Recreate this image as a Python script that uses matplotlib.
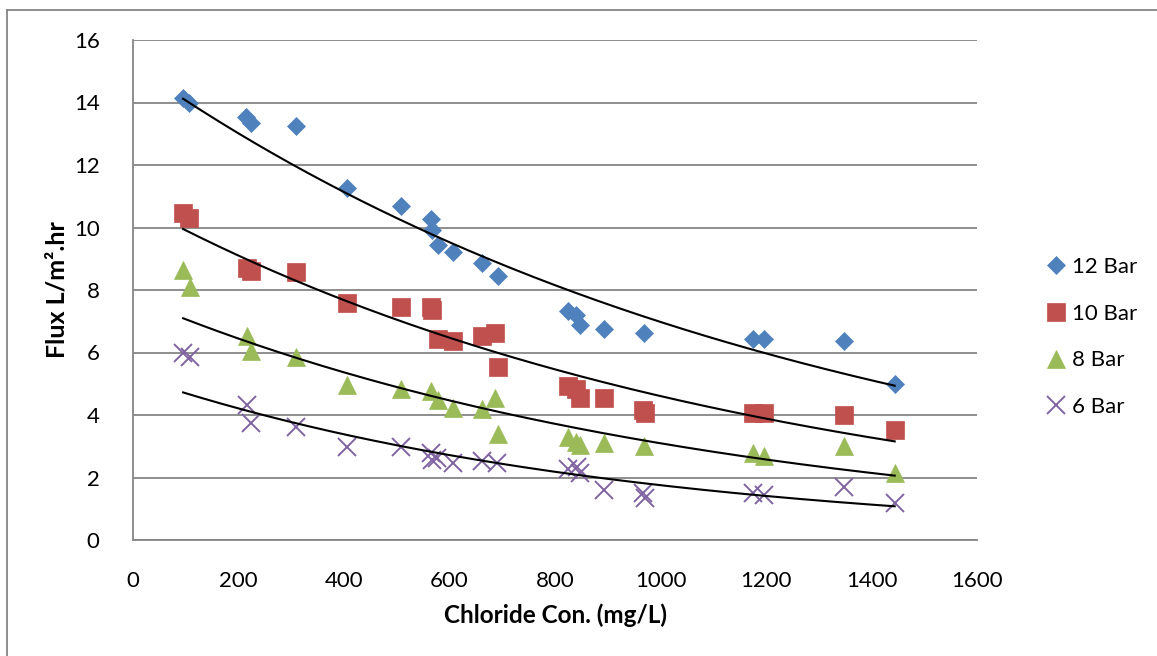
import numpy as np
import matplotlib
matplotlib.use("Agg")
import matplotlib.pyplot as plt
from matplotlib.lines import Line2D

# ---- data ----
x12 = [95, 106, 214, 224, 309, 406, 508, 565, 567, 579, 607, 662, 691, 824, 839, 848, 892, 968, 1176, 1197, 1347, 1444]
y12 = [14.14, 13.98, 13.54, 13.34, 13.25, 11.26, 10.69, 10.27, 9.92, 9.44, 9.22, 8.86, 8.45, 7.33, 7.2, 6.87, 6.75, 6.62, 6.43, 6.43, 6.37, 5.0]

x10 = [95, 106, 216, 224, 309, 406, 508, 565, 567, 579, 607, 662, 687, 691, 824, 839, 848, 892, 966, 970, 1176, 1197, 1347, 1444]
y10 = [10.46, 10.3, 8.7, 8.6, 8.58, 7.58, 7.46, 7.45, 7.36, 6.43, 6.37, 6.53, 6.62, 5.54, 4.93, 4.83, 4.54, 4.54, 4.15, 4.08, 4.06, 4.06, 4.0, 3.52]

x8 = [95, 108, 216, 223, 309, 406, 508, 565, 579, 607, 662, 687, 691, 824, 839, 848, 892, 968, 1176, 1197, 1347, 1444]
y8 = [8.64, 8.1, 6.53, 6.05, 5.86, 4.96, 4.84, 4.77, 4.48, 4.22, 4.19, 4.54, 3.39, 3.3, 3.15, 3.04, 3.1, 3.0, 2.79, 2.68, 3.0, 2.15]

x6 = [95, 108, 216, 224, 309, 406, 508, 565, 567, 577, 607, 662, 690, 824, 842, 848, 892, 966, 970, 1176, 1197, 1347, 1444]
y6 = [5.98, 5.86, 4.32, 3.74, 3.62, 2.98, 2.98, 2.8, 2.56, 2.63, 2.46, 2.52, 2.45, 2.27, 2.34, 2.14, 1.6, 1.5, 1.35, 1.5, 1.44, 1.7, 1.18]

labels = ["12 Bar", "10 Bar", "8 Bar", "6 Bar"]
xticks = [0, 200, 400, 600, 800, 1000, 1200, 1400, 1600]
yticks = [0, 2, 4, 6, 8, 10, 12, 14, 16]

plt.rcParams['font.family'] = ['Lato', 'DejaVu Sans']

W, H = 1157, 656
fig = plt.figure(figsize=(W / 100, H / 100), dpi=100)
ax = fig.add_axes([133 / W, 1 - 540 / H, (977 - 133) / W, (540 - 40) / H])

grid_c = '#868686'
series = [
    (x12, y12, 'D', '#4F81BD', 9.3, dict()),
    (x10, y10, 's', '#C0504D', 13.5, dict()),
    (x8, y8, '^', '#9BBB59', 13.5, dict()),
    (x6, y6, 'x', '#8064A2', 12.5, dict(markeredgewidth=1.4)),
]

handles = []
for (xs, ys, m, c, ms, kw), lab in zip(series, labels):
    xs = np.asarray(xs, float)
    ys = np.asarray(ys, float)
    if m == 'x':
        h, = ax.plot(xs, ys, linestyle='none', marker=m, markersize=ms, color=c, label=lab, zorder=3, **kw)
    else:
        h, = ax.plot(xs, ys, linestyle='none', marker=m, markersize=ms, color=c,
                     markeredgecolor=c, markeredgewidth=0.5, label=lab, zorder=3, **kw)
    handles.append(h)
    # exponential trendline
    b, lna = np.polyfit(xs, np.log(ys), 1)
    xt = np.linspace(xs.min(), xs.max(), 200)
    ax.plot(xt, np.exp(lna) * np.exp(b * xt), color='black', lw=1.5, zorder=4)

ax.set_xlim(0, 1600)
ax.set_ylim(0, 16)
ax.set_xticks(xticks)
ax.set_yticks(yticks)
ax.tick_params(axis='both', length=0, labelsize=16, colors='black')
ax.tick_params(axis='x', pad=22)
ax.tick_params(axis='y', pad=24)
ax.yaxis.grid(True, color=grid_c, lw=1.3)
ax.set_axisbelow(True)
for s in ['top', 'right']:
    ax.spines[s].set_visible(False)
for s in ['left', 'bottom']:
    ax.spines[s].set_color(grid_c)
    ax.spines[s].set_linewidth(1.3)

ax.set_xlabel('Chloride Con. (mg/L)', fontsize=17.5, fontweight='bold')
ax.xaxis.set_label_coords(555 / W, 1 - 615 / H, transform=fig.transFigure)
ax.xaxis.label.set_va('center')
ax.set_ylabel('Flux L/m².hr', fontsize=18, fontweight='bold')
ax.yaxis.set_label_coords(57 / W, 1 - 290 / H, transform=fig.transFigure)
ax.yaxis.label.set_va('center')

leg = fig.legend(handles=handles, labels=labels, loc='center left',
                 bbox_to_anchor=(1036 / W, 1 - 337 / H), frameon=False,
                 fontsize=16, labelspacing=1.2, handlelength=1.0,
                 handletextpad=0.2, borderaxespad=0)

# outer chart border (top and left visible)
fig.add_artist(Line2D([7 / W, 1.0], [1 - 10 / H, 1 - 10 / H], transform=fig.transFigure, color=grid_c, lw=1.3))
fig.add_artist(Line2D([7 / W, 7 / W], [0, 1 - 10 / H], transform=fig.transFigure, color=grid_c, lw=1.3))

fig.savefig('out.png', dpi=100)
